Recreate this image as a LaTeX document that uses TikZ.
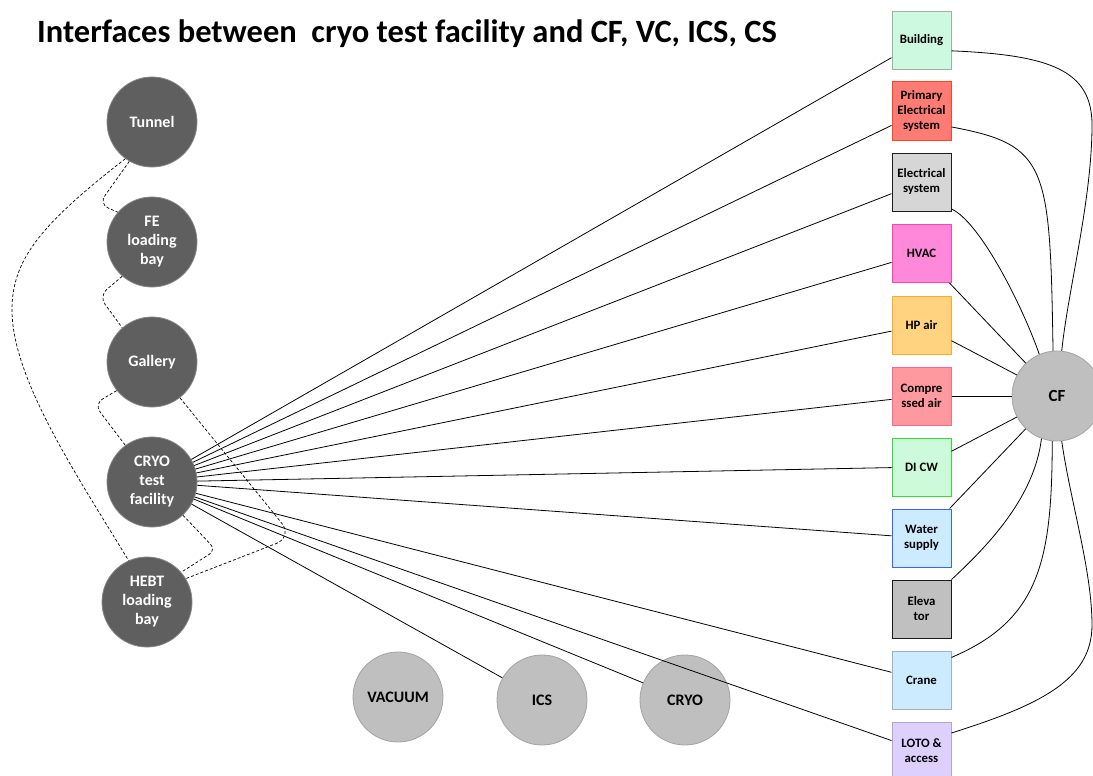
\documentclass[tikz,border=0pt]{standalone}
\usepackage{fontspec}
\setmainfont{Carlito}
% circle colours
\definecolor{darkfill}{HTML}{5F5F5F}
\definecolor{darkedge}{HTML}{858585}
\definecolor{lightfill}{HTML}{BFBFBF}
\definecolor{lightedge}{HTML}{A3A3A3}
% box colours
\definecolor{bldfill}{HTML}{CCF9DF}\definecolor{bldedge}{HTML}{96B4A0}
\definecolor{pesfill}{HTML}{FF7C74}\definecolor{pesedge}{HTML}{FF4422}
\definecolor{elsfill}{HTML}{D6D6D6}\definecolor{elsedge}{HTML}{1E1E1E}
\definecolor{hvacfill}{HTML}{FF88DA}\definecolor{hvacedge}{HTML}{FF44AA}
\definecolor{hpafill}{HTML}{FFD37F}\definecolor{hpaedge}{HTML}{FFAA22}
\definecolor{cpafill}{HTML}{FF99A0}\definecolor{cpaedge}{HTML}{FF6688}
\definecolor{dicwfill}{HTML}{CCFADA}\definecolor{dicwedge}{HTML}{33DD33}
\definecolor{wsfill}{HTML}{CCEBFF}\definecolor{wsedge}{HTML}{3366FF}
\definecolor{elvfill}{HTML}{C0C0C0}\definecolor{elvedge}{HTML}{1A1A1A}
\definecolor{crnfill}{HTML}{CCEBFF}\definecolor{crnedge}{HTML}{9DB0C4}
\definecolor{lotofill}{HTML}{DDD0FF}\definecolor{lotoedge}{HTML}{B0A8C8}
\begin{document}
\begin{tikzpicture}[x=1pt,y=-1pt,
  darkball/.style={circle, minimum size=90pt, inner sep=0pt, fill=darkfill,
    draw=darkedge, line width=0.8pt, text=white,
    font=\bfseries\fontsize{16}{19}\selectfont, align=center},
  lightball/.style={circle, minimum size=90pt, inner sep=0pt, fill=lightfill,
    draw=lightedge, line width=0.8pt, text=black,
    font=\bfseries\fontsize{16}{19}\selectfont, align=center},
  cfbox/.style={rectangle, minimum width=59pt, minimum height=58pt,
    inner sep=0pt, line width=1pt,
    font=\bfseries\fontsize{12.8}{15}\selectfont, align=center},
  link/.style={draw=black, line width=0.8pt},
  dlink/.style={draw=black, line width=0.7pt, dash pattern=on 3pt off 2pt},
]
\useasboundingbox (0,0) rectangle (1093,776);

% title
\node[anchor=base west, inner sep=0pt, font=\bfseries\fontsize{32.5}{38}\selectfont]
  (title) at (37,43) {Interfaces between\ \ cryo test facility and CF, VC, ICS, CS};

% locations
\node[darkball] (tunnel) at (152,122) {Tunnel};
\node[darkball] (fe)     at (152,242) {FE\\loading\\bay};
\node[darkball] (gal)    at (152,362) {Gallery};
\node[darkball] (cryo)   at (152,482) {CRYO\\test\\facility};
\node[darkball] (hebt)   at (147,602) {HEBT\\loading\\bay};

% other systems
\node[lightball] (vac)  at (398,697) {VACUUM};
\node[lightball] (ics)  at (542,700) {ICS};
\node[lightball] (cs)   at (685,700) {CRYO};
\node[lightball, font=\bfseries\fontsize{17}{20}\selectfont] (cf) at (1057,396) {CF};

% CF sub-systems
\node[cfbox, fill=bldfill,  draw=bldedge]  (bld)  at (921.5,40.5) {Building};
\node[cfbox, fill=pesfill,  draw=pesedge]  (pes)  at (921.5,111)  {Primary\\Electrical\\system};
\node[cfbox, fill=elsfill,  draw=elsedge]  (els)  at (921.5,182)  {Electrical\\system};
\node[cfbox, fill=hvacfill, draw=hvacedge] (hvac) at (921.5,253.5){HVAC};
\node[cfbox, fill=hpafill,  draw=hpaedge]  (hpa)  at (921.5,325)  {HP air};
\node[cfbox, fill=cpafill,  draw=cpaedge]  (cpa)  at (921.5,396)  {Compre\\ssed air};
\node[cfbox, fill=dicwfill, draw=dicwedge] (dicw) at (921.5,467)  {DI CW};
\node[cfbox, fill=wsfill,   draw=wsedge]   (ws)   at (921.5,538)  {Water\\supply};
\node[cfbox, fill=elvfill,  draw=elvedge]  (elv)  at (921.5,609)  {Eleva\\tor};
\node[cfbox, fill=crnfill,  draw=crnedge]  (crn)  at (921.5,680)  {Crane};
\node[cfbox, fill=lotofill, draw=lotoedge] (loto) at (921.5,751)  {LOTO \&\\access};

% test facility interfaces
\foreach \t in {bld,pes,els,hvac,hpa,cpa,dicw,ws,crn,loto,ics,cs}
  \draw[link] (cryo) -- (\t);

% sub-systems to CF, straight
\foreach \t in {hvac,hpa,cpa,dicw,ws}
  \draw[link] (\t) -- (cf);

% sub-systems to CF, curved
\coordinate (bldturn)  at (1092,125);
\coordinate (lototurn) at (1092,625);
\draw[link] (bld.-19) .. controls (1050,55) and (1092,70) .. (bldturn)
  .. controls (1092,200) and (1068,290) .. (cf.84);
\draw[link] (pes.-28) .. controls (1048,145) and (1050,165) .. (cf.95);
\draw[link] (els.-42) .. controls (980,222) and (1022,305) .. (cf.113);
\draw[link] (elv.north east) .. controls (1000,535) and (1035,490) .. (cf.250);
\draw[link] (crn.37) .. controls (1040,620) and (1052,560) .. (cf.264);
\draw[link] (loto.31) .. controls (1040,705) and (1092,680) .. (lototurn)
  .. controls (1092,570) and (1070,500) .. (cf.276);

% location adjacency
\coordinate (c1) at (99,204);
\coordinate (c2) at (99,296);
\coordinate (c3) at (94,404);
\coordinate (c4) at (293,537);
\coordinate (c5) at (216,550);
\coordinate (c6) at (12,310);
\draw[dlink, rounded corners=10pt] (tunnel.240) -- (c1) -- (fe.139);
\draw[dlink, rounded corners=10pt] (fe.229) -- (c2) -- (gal.131);
\draw[dlink, rounded corners=10pt] (gal.219) -- (c3) -- (cryo.126);
\draw[dlink, rounded corners=18pt] (gal.308) -- (c4) -- (hebt.31);
\draw[dlink, rounded corners=8pt] (cryo.313) -- (c5) -- (hebt.41);
\draw[dlink] (tunnel.234) .. controls (40,225) and (12,260) .. (c6)
  .. controls (12,380) and (80,480) .. (hebt.114);
\end{tikzpicture}
\end{document}
